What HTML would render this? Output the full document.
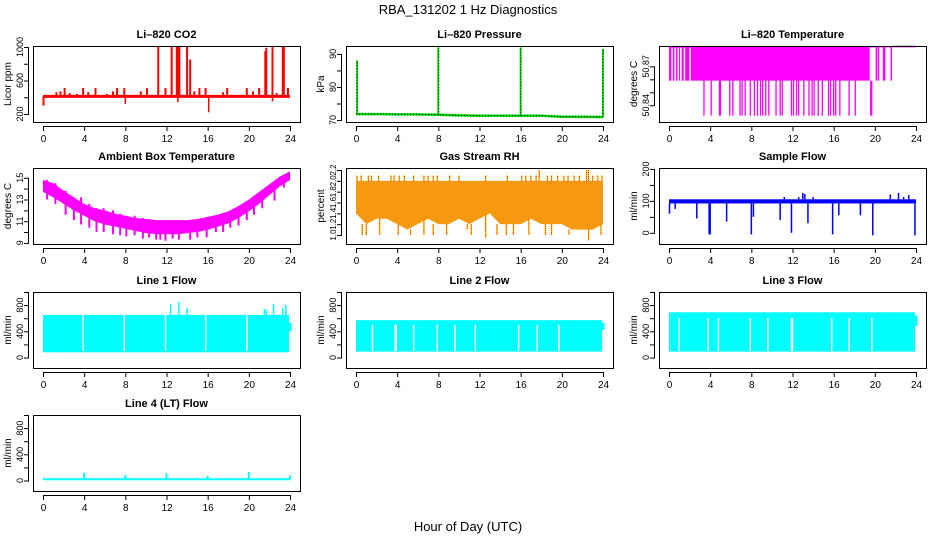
<!DOCTYPE html>
<html><head><meta charset="utf-8"><style>
body{margin:0;background:#fff}
svg{display:block;font-family:"Liberation Sans",sans-serif}
</style></head><body>
<svg id="c" width="936" height="540" viewBox="0 0 936 540">
<text x="468" y="14" font-size="13" text-anchor="middle">RBA_131202  1 Hz Diagnostics</text>
<text x="468" y="531" font-size="13" text-anchor="middle">Hour of Day (UTC)</text>
</svg>
<script>
// ---- data ----
const xTicks=[0,4,8,12,16,20,24];
const co2Base=410;
const co2SpikeH=[0.05,1.3,1.7,2.1,2.6,3.3,3.9,4.4,5.1,6.2,6.8,7.2,7.9,9.5,10.1,11.2,11.9,12.5,13.0,13.1,13.25,14.0,14.3,14.7,15.2,15.8,17.5,17.9,19.8,20.4,21.0,21.6,21.7,22.3,22.7,23.3,23.4,23.8];
const co2SpikeV=[300,460,470,510,450,440,510,460,510,440,470,510,510,470,510,1000,510,1000,1000,1000,1000,1000,850,470,510,510,460,510,510,470,510,950,990,1000,450,1000,1000,510];
const co2DipH=[8.0,16.1,13.1,22.3];
const co2DipV=[320,220,340,350];
const presH=[0,2,4,6,8,10,12,14,16,18,20,22,24];
const presV=[71.8,71.8,71.7,71.7,71.6,71.4,71.3,71.3,71.3,71.3,71.0,71.0,70.9];
const presSpikeH=[0.1,8.0,16.0,24.0];
const presSpikeV=[88,92,92,91.5];
const tTop=50.885,tMid=50.859,tBot=50.832,tBandEnd=19.5;
const tGapH=[0.3,0.6,0.9,1.15,1.5,2.05];
const tLateH=[20.15,20.35,20.85,20.95,21.6];
const tDownH=[3.4,4.1,4.9,5.0,5.9,6.2,6.9,7.1,7.4,7.9,8.3,8.6,8.9,9.1,9.4,9.7,10.4,10.8,11.0,11.9,12.1,12.4,12.6,13.1,13.6,13.9,14.1,14.5,14.9,15.5,15.7,16.0,16.2,16.6,17.5,18.1,19.6,19.7];
const ambH=[0,1,2,3,4,5,6,7,8,9,10,11,12,13,14,15,16,17,18,19,20,21,22,23,24];
const ambUp=[14.8,14.5,13.8,13.2,12.6,12.2,12.0,11.7,11.5,11.3,11.2,11.1,11.1,11.1,11.1,11.2,11.4,11.6,11.9,12.4,13.0,13.7,14.4,15.1,15.6];
const ambLo=[13.7,13.2,12.6,12.0,11.5,11.0,10.7,10.5,10.3,10.1,9.9,9.8,9.8,9.8,9.9,10.0,10.2,10.5,10.8,11.3,11.9,12.6,13.4,14.2,14.8];
const ambDipH=[0.4,1.2,2.2,3.0,3.7,4.5,5.2,5.9,6.8,7.5,8.1,8.9,9.7,10.3,11.0,11.4,11.9,12.6,13.2,14.3,15.0,15.9,16.8,17.5,18.2,19.0,19.8,20.5,21.3,22.5,23.4];
const ambDipV=[13.0,12.6,11.6,11.1,10.7,10.4,10.0,10.0,9.8,9.7,9.6,9.7,9.4,9.5,9.3,9.3,9.2,9.4,9.3,9.3,9.5,9.5,10.0,10.0,10.4,10.6,11.1,11.6,12.2,12.9,14.1];
const rhH=[0,1,2,3,4,5,6,7,8,9,10,11,12,13,14,15,16,17,18,19,20,21,22,23,24];
const rhLo=[1.4,1.2,1.3,1.3,1.2,1.1,1.2,1.3,1.2,1.2,1.3,1.2,1.3,1.4,1.2,1.2,1.2,1.3,1.2,1.2,1.2,1.1,1.1,1.1,1.2];
const rhTop=2.0;
const rhUpH=[0.1,0.5,1.2,1.5,2.2,3.4,3.7,4.2,4.7,5.6,6.6,7.0,7.5,7.9,9.1,10.0,12.6,14.7,16.1,16.5,17.0,17.5,17.8,18.6,19.0,19.6,20.2,20.6,21.2,21.7,22.4,22.6,23.0,23.5,23.9];
const rhUpV=[2.1,2.1,2.1,2.1,2.1,2.1,2.1,2.1,2.1,2.1,2.1,2.1,2.1,2.1,2.1,2.1,2.1,2.1,2.1,2.1,2.1,2.1,2.2,2.1,2.1,2.1,2.1,2.1,2.1,2.1,2.2,2.2,2.1,2.1,2.1];
const rhDnH=[0.6,1.0,2.3,4.1,5.3,6.6,7.5,8.8,10.8,11.2,12.6,13.7,14.6,15.3,16.8,18.4,19.0,20.7,22.6,23.8];
const rhDnV=[1.0,1.0,1.0,1.0,1.0,1.0,1.0,1.0,1.1,1.0,0.95,1.0,1.0,1.0,1.0,1.0,1.0,1.0,0.9,1.0];
const sfLo=92,sfHi=105;
const sfDipH=[0.05,0.6,2.7,3.9,4.0,5.6,8.0,8.2,10.8,11.9,13.5,15.9,16.5,18.6,19.8,23.9];
const sfDipV=[60,75,45,-5,-5,35,-5,50,40,0,30,-5,55,55,-8,-8];
const sfUpH=[11.2,12.6,13.0,13.2,14.0,21.5,22.3,22.8,23.3];
const sfUpV=[112,112,125,122,112,120,125,112,118];
const l1Lo=80,l1Hi=650;
const l1GapH=[3.9,7.9,11.9,15.8,19.8];
const l1UpH=[12.4,13.2,14.0,21.5,21.7,22.4,23.3,23.6];
const l1UpV=[820,850,760,740,730,820,750,800];
const l2Lo=90,l2Hi=570;
const l2GapH=[1.6,3.8,3.9,5.6,7.9,9.6,11.6,15.8,17.6,19.7];
const l3Lo=90,l3Hi=690;
const l3GapH=[1.0,3.8,4.8,7.9,9.6,11.9,12.0,15.8,17.5,19.7];
const l4Base=20;
const l4SpikeH=[4.0,8.0,12.0,16.0,20.0,24.0];
const l4SpikeV=[120,80,110,70,130,75];

// ---- layout ----
const svg=document.getElementById('c');
const NS='http://www.w3.org/2000/svg';
const colL=[33,346,659], rowT=[46,168,292,415], W=267, H=76;
function el(tag,attrs,parent){const e=document.createElementNS(NS,tag);for(const k in attrs)e.setAttribute(k,attrs[k]);(parent||svg).appendChild(e);return e;}
function panel(c,r,name,title,ylab,ymin,ymax,ticks,labels,fs){
  const g=el('g',{});
  
  
  const L=colL[c],T=rowT[r];
  const X=h=>L+10+h*247/24;
  const Y=v=>T+H-(v-ymin)/(ymax-ymin)*H;
  const t=el('text',{x:L+W/2,y:T-8,'font-size':11,'font-weight':'bold','text-anchor':'middle'},g);t.textContent=title;
  
  
  const yl=el('text',{transform:`translate(${L-22},${T+H/2}) rotate(-90)`,'font-size':10,'text-anchor':'middle'},g);yl.textContent=ylab;
  
  
  const data=el('g',{},g);
  
  
  const ax=el('g',{stroke:'#000','stroke-width':1,fill:'none'},g);
  
  
  el('rect',{x:L+.5,y:T+.5,width:W,height:H},ax);
  el('line',{x1:X(0),x2:X(24),y1:T+H+4.5,y2:T+H+4.5},ax);
  xTicks.forEach(h=>{el('line',{x1:X(h)+.5,x2:X(h)+.5,y1:T+H+4,y2:T+H+9},ax);
    const tx=el('text',{x:X(h)+.5,y:T+H+20,'font-size':10,'text-anchor':'middle',stroke:'none',fill:'#000'},g);tx.textContent=h;
    
    });
  el('line',{x1:L-4.5,x2:L-4.5,y1:Y(ticks[0]),y2:Y(ticks[ticks.length-1])},ax);
  ticks.forEach((v,i)=>{el('line',{x1:L-9,x2:L-4,y1:Y(v)+.5,y2:Y(v)+.5},ax);
    if(labels[i]!==''){const ty=el('text',{transform:`translate(${L-10},${Y(v)}) rotate(-90)`,'font-size':fs||9,'text-anchor':'middle',fill:'#000'},g);ty.textContent=labels[i];
    
    }});
  return {X,Y,g:data};
}
function vline(p,h,v1,v2,col,w){return el('line',{x1:p.X(h),x2:p.X(h),y1:p.Y(v1),y2:p.Y(v2),stroke:col,'stroke-width':w||1},p.g);}
function band(p,h1,h2,lo,hi,col){return el('rect',{x:p.X(h1),y:p.Y(hi),width:p.X(h2)-p.X(h1),height:p.Y(lo)-p.Y(hi),fill:col},p.g);}

// CO2
let p=panel(0,0,'co2','Li–820 CO2','Licor ppm',104,1012,[200,400,600,800,1000],['200','','600','','1000']);
co2SpikeH.forEach((h,i)=>vline(p,h,co2Base,co2SpikeV[i],'#ff0000',2));
co2DipH.forEach((h,i)=>vline(p,h,co2Base,co2DipV[i],'#ff0000',1.5));
el('line',{x1:p.X(0),x2:p.X(24),y1:p.Y(co2Base),y2:p.Y(co2Base),stroke:'#ff0000','stroke-width':3},p.g);
// Pressure
p=panel(1,0,'pressure','Li–820 Pressure','kPa',69.4,92.4,[70,75,80,85,90],['70','','80','','90']);
el('polyline',{points:presH.map((h,i)=>p.X(h)+','+p.Y(presV[i])).join(' '),fill:'none',stroke:'#00dd00','stroke-width':2.5},p.g);
el('polyline',{points:presH.map((h,i)=>p.X(h)+','+p.Y(presV[i])).join(' '),fill:'none',stroke:'#000','stroke-width':1,'stroke-dasharray':'1 2'},p.g);
presSpikeH.forEach((h,i)=>{vline(p,h,presV[Math.min(12,Math.round(h/2))],presSpikeV[i],'#00dd00',2);const l=vline(p,h,presV[Math.min(12,Math.round(h/2))],presSpikeV[i],'#000',1);l.setAttribute('stroke-dasharray','1 2');});
// Temperature
p=panel(2,0,'li820-temperature','Li–820 Temperature','degrees C',50.8271,50.8857,[50.84,50.85,50.86,50.87],['50.84','','','50.87']);
band(p,0,tBandEnd,tMid,tTop,'#ff00ff');
tGapH.forEach(h=>vline(p,h,tMid,tTop-0.0005,'#fff',1.5));
tLateH.forEach(h=>vline(p,h,tMid,tTop,'#ff00ff',1.5));
tDownH.forEach(h=>vline(p,h,tMid,tBot,'#ff00ff',1.3));
el('line',{x1:p.X(tBandEnd),x2:p.X(24),y1:p.Y(tTop),y2:p.Y(tTop),stroke:'#ff00ff','stroke-width':1},p.g);
el('line',{x1:p.X(21.6),x2:p.X(24),y1:p.Y(tTop)-1,y2:p.Y(tTop)-1,stroke:'#888','stroke-width':0.6},p.g);
// Ambient
p=panel(0,1,'ambient-temperature','Ambient Box Temperature','degrees C',8.9,15.9,[9,10,11,12,13,14,15],['9','','11','','13','','15']);
el('polygon',{points:ambH.map((h,i)=>p.X(h)+','+p.Y(ambUp[i])).concat(ambH.slice().reverse().map((h,j)=>{const i=ambH.length-1-j;return p.X(h)+','+p.Y(ambLo[i]);})).join(' '),fill:'#ff00ff'},p.g);
ambDipH.forEach((h,i)=>{const k=Math.floor(h);vline(p,h,ambUp[k],ambDipV[i],'#ff00ff',2);});
// RH
p=panel(1,1,'gas-stream-rh','Gas Stream RH','percent',0.834,2.237,[1.0,1.2,1.4,1.6,1.8,2.0,2.2],['1.0','1.2','1.4','1.6','1.8','2.0','2.2'],8);
el('polygon',{points:[p.X(0)+','+p.Y(rhTop),p.X(24)+','+p.Y(rhTop)].concat(rhH.slice().reverse().map((h,j)=>p.X(h)+','+p.Y(rhLo[rhH.length-1-j]))).join(' '),fill:'#f59a10'},p.g);
rhUpH.forEach((h,i)=>{vline(p,h,rhTop,rhUpV[i],'#ffcc00',1.5);vline(p,h,rhTop,rhUpV[i],'#ff0000',0.8).setAttribute('stroke-dasharray','1 1');});
rhDnH.forEach((h,i)=>{vline(p,h,rhLo[Math.round(h)],rhDnV[i],'#ffcc00',1.5);vline(p,h,rhLo[Math.round(h)],rhDnV[i],'#ff0000',0.8).setAttribute('stroke-dasharray','1 1');});
// Sample flow
p=panel(2,1,'sample-flow','Sample Flow','ml/min',-35,203,[0,50,100,150,200],['0','','100','','200']);
band(p,0,24,sfLo,sfHi,'#0000ff');
sfDipH.forEach((h,i)=>vline(p,h,sfLo,sfDipV[i],'#0000ff',1.5));
sfUpH.forEach((h,i)=>vline(p,h,sfHi,sfUpV[i],'#0000ff',1.5));
// Line flows
const flowTicks=[0,200,400,600,800,1000],flowLabs=['0','','400','','800',''];
p=panel(0,2,'line1-flow','Line 1 Flow','ml/min',-160,1000,flowTicks,flowLabs);
band(p,0,23.9,l1Lo,l1Hi,'#00ffff');
l1GapH.forEach(h=>vline(p,h,l1Lo+20,l1Hi,'#fff',1.5));
l1UpH.forEach((h,i)=>vline(p,h,l1Hi,l1UpV[i],'#00ffff',1.5));
vline(p,24,400,530,'#00ffff',3);
p=panel(1,2,'line2-flow','Line 2 Flow','ml/min',-160,1000,flowTicks,flowLabs);
band(p,0,23.9,l2Lo,l2Hi,'#00ffff');
l2GapH.forEach(h=>vline(p,h,l2Lo+10,l2Hi-70,'#fff',1.5));
vline(p,24,420,530,'#00ffff',3);
p=panel(2,2,'line3-flow','Line 3 Flow','ml/min',-160,1000,flowTicks,flowLabs);
band(p,0,23.9,l3Lo,l3Hi,'#00ffff');
l3GapH.forEach(h=>vline(p,h,l3Lo+10,l3Hi-90,'#fff',1.5));
vline(p,24,480,640,'#00ffff',3);
p=panel(0,3,'line4-flow','Line 4 (LT) Flow','ml/min',-160,1000,flowTicks,flowLabs);
el('line',{x1:p.X(0),x2:p.X(24),y1:p.Y(l4Base),y2:p.Y(l4Base),stroke:'#00ffff','stroke-width':2},p.g);
l4SpikeH.forEach((h,i)=>vline(p,h,l4Base,l4SpikeV[i],'#00ffff',2));
</script>
</body></html>
